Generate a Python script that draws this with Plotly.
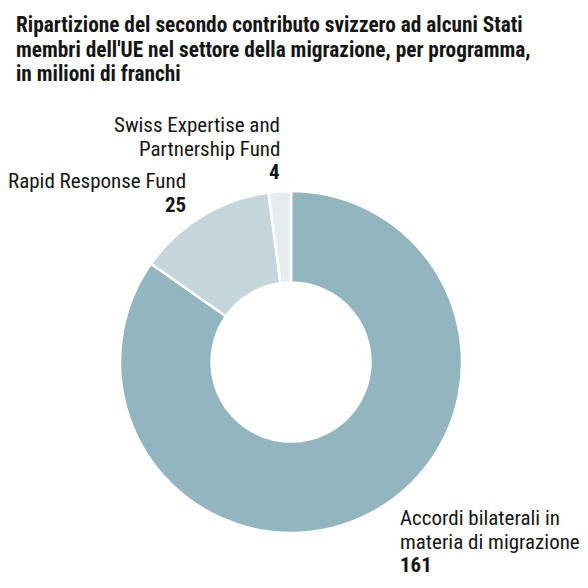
import plotly.graph_objects as go

# data
programmi = ["Accordi bilaterali in<br>materia di migrazione", "Rapid Response Fund", "Swiss Expertise and<br>Partnership Fund"]
valori = [161, 25, 4]
colori = ["#93b5bf", "#c4d5dc", "#e5ecef"]

titolo = ["Ripartizione del secondo contributo svizzero ad alcuni Stati",
          "membri dell'UE nel settore della migrazione, per programma,",
          "in milioni di franchi"]

FONT = "Roboto Condensed, Roboto, sans-serif"
W = H = 588


def px_x(x):
    return x / W


def px_y(y):
    return 1 - y / H


def text_lines(lines, x, base, step, anchor, size, bold_last=False):
    # one annotation per line so the line spacing can follow the reference
    for i, line in enumerate(lines):
        bold = bold_last and i == len(lines) - 1
        fig.add_annotation(
            x=px_x(x), y=px_y(base + i * step - 0.34 * size),
            xref="paper", yref="paper", xanchor=anchor, yanchor="middle",
            showarrow=False, text=f"<b>{line}</b>" if bold else line,
            font=dict(family=FONT, size=size, color="#151515"),
        )


fig = go.Figure()
fig.add_trace(go.Pie(
    labels=programmi,
    values=valori,
    hole=0.465,
    sort=False,
    direction="clockwise",
    rotation=0,
    textinfo="none",
    hoverinfo="label+value",
    marker=dict(colors=colori, line=dict(color="white", width=2.5)),
    domain=dict(x=[px_x(120), px_x(462)], y=[px_y(533), px_y(191)]),
    showlegend=False,
))

# label anchor (x, first baseline, side) for each slice
label_pos = [(398, 525, "left"), (188, 188, "right"), (282, 132, "right")]
for nome, val, (lx, base, side) in zip(programmi, valori, label_pos):
    text_lines(nome.split("<br>") + [str(val)], lx, base, 23.8, side, 21, bold_last=True)

text_lines([f"<b>{t}</b>" for t in titolo], 14, 32, 24.3, "left", 21.3)

fig.update_layout(
    width=W, height=H,
    margin=dict(l=0, r=0, t=0, b=0),
    paper_bgcolor="white", plot_bgcolor="white",
)

fig.write_html("out.html", config={"displayModeBar": False},
               post_script="document.body.style.margin='0px';")
